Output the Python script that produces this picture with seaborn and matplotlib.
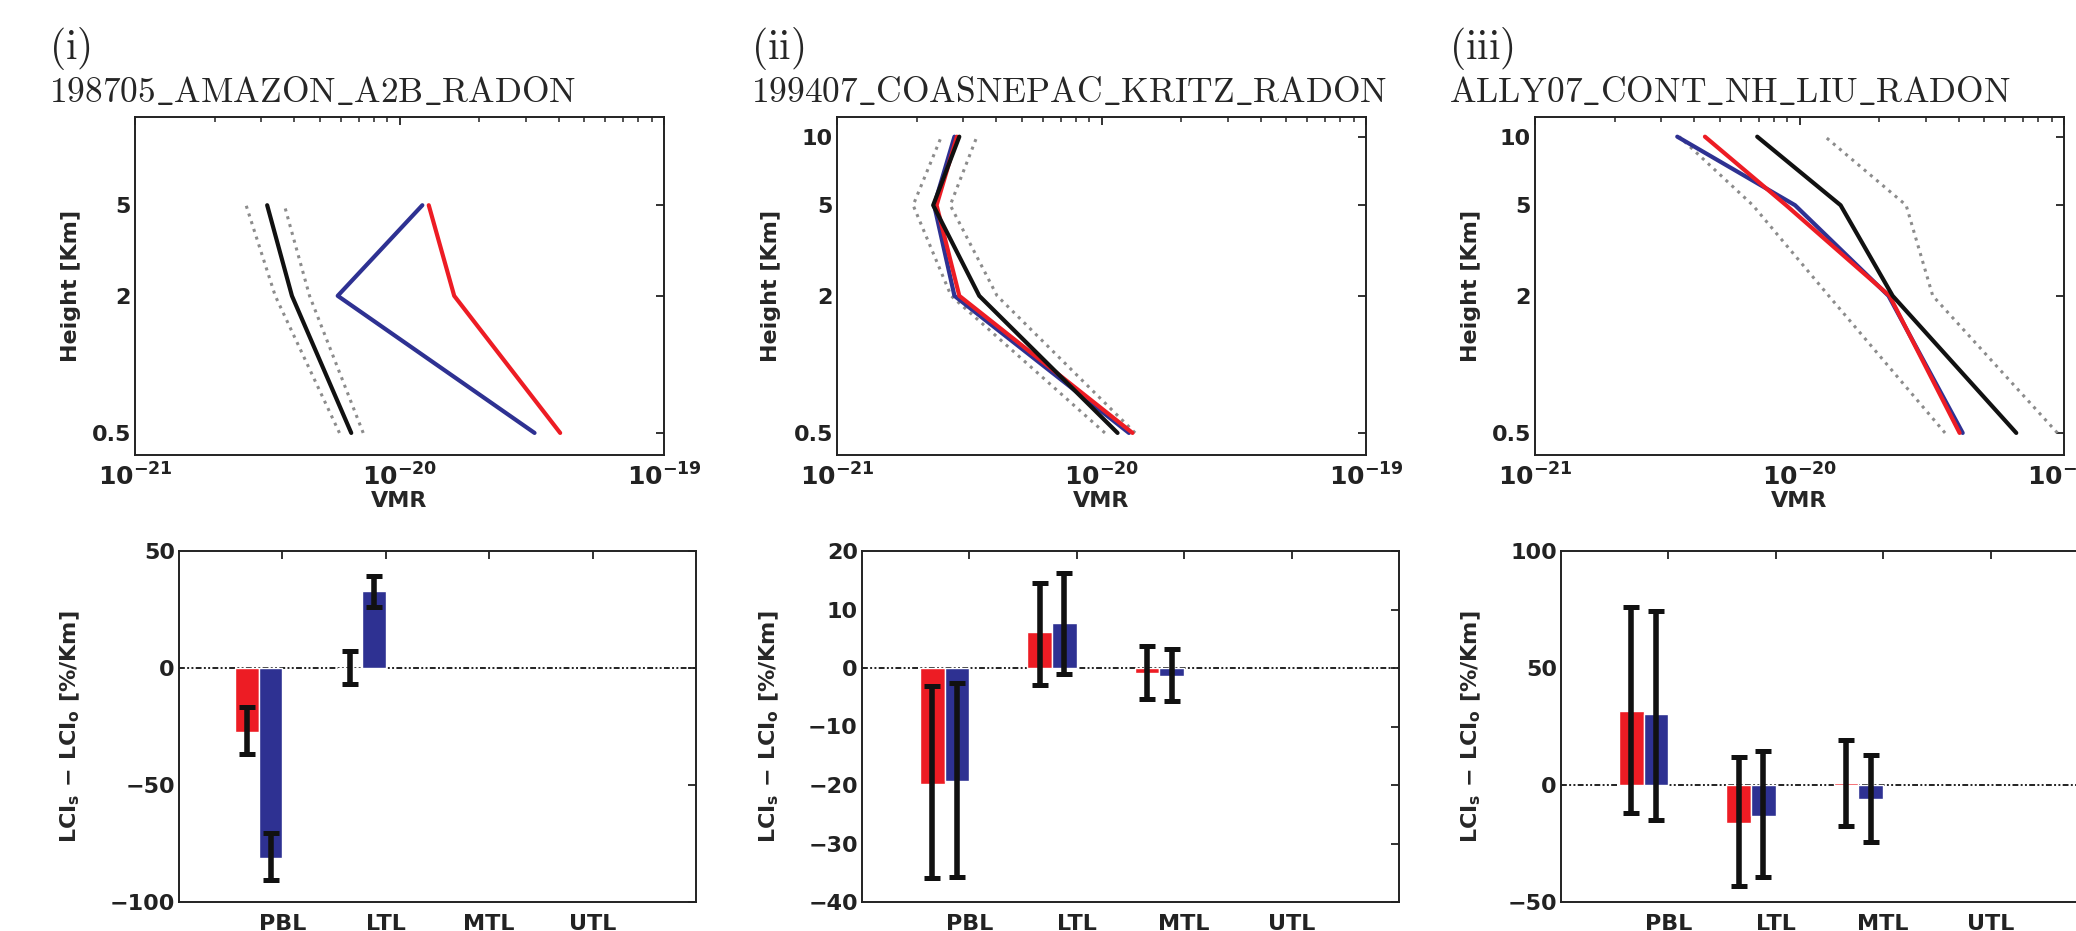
import matplotlib
matplotlib.use("Agg")
import matplotlib.pyplot as plt
import numpy as np
import pandas as pd
import seaborn as sns
from matplotlib.ticker import NullFormatter, NullLocator

# ---- data -----------------------------------------------------------------
panel_tags = ["(i)", "(ii)", "(iii)"]
panel_names = [
    "198705\\_AMAZON\\_A2B\\_RADON",
    "199407\\_COASNEPAC\\_KRITZ\\_RADON",
    "ALLY07\\_CONT\\_NH\\_LIU\\_RADON",
]

heights_short = [0.5, 2, 5]
heights_long = [0.5, 2, 5, 10]
profile_heights = [heights_short, heights_long, heights_long]

# observed mean and its spread, red/blue model runs
obs_mean = [
    [6.57e-21, 3.92e-21, 3.16e-21],
    [1.15e-20, 3.45e-21, 2.31e-21, 2.90e-21],
    [6.60e-20, 2.25e-20, 1.43e-20, 6.92e-21],
]
obs_low = [
    [5.93e-21, 3.39e-21, 2.63e-21],
    [1.03e-20, 2.70e-21, 1.94e-21, 2.48e-21],
    [3.55e-20, 1.29e-20, 6.66e-21, 3.51e-21],
]
obs_high = [
    [7.29e-21, 4.57e-21, 3.67e-21],
    [1.34e-20, 4.03e-21, 2.68e-21, 3.38e-21],
    [9.44e-20, 3.19e-20, 2.53e-20, 1.25e-20],
]
model_red = [
    [4.05e-20, 1.61e-20, 1.29e-20],
    [1.31e-20, 2.90e-21, 2.38e-21, 2.84e-21],
    [4.03e-20, 2.19e-20, 8.90e-21, 4.39e-21],
]
model_blue = [
    [3.24e-20, 5.84e-21, 1.22e-20],
    [1.27e-20, 2.78e-21, 2.33e-21, 2.78e-21],
    [4.14e-20, 2.17e-20, 9.62e-21, 3.45e-21],
]

layers = ["PBL", "LTL", "MTL", "UTL"]
nan = np.nan
lci_red = [
    [-27.5, -0.5, nan, nan],
    [-19.8, 6.1, -0.9, nan],
    [31.5, -16.2, 0.85, nan],
]
lci_red_lo = [
    [-36.7, -6.8, nan, nan],
    [-35.9, -2.85, -5.3, nan],
    [-12.1, -43.0, -17.4, nan],
]
lci_red_hi = [
    [-16.8, 7.1, nan, nan],
    [-3.0, 14.6, 3.8, nan],
    [76.2, 12.1, 19.2, nan],
]
lci_blue = [
    [-81.0, 32.7, nan, nan],
    [-19.4, 7.7, -1.4, nan],
    [30.5, -13.1, -6.0, nan],
]
lci_blue_lo = [
    [-90.5, 25.9, nan, nan],
    [-35.8, -1.1, -5.6, nan],
    [-14.8, -39.5, -24.2, nan],
]
lci_blue_hi = [
    [-70.4, 39.4, nan, nan],
    [-2.6, 16.2, 3.25, nan],
    [74.5, 14.7, 12.8, nan],
]
lci_ylims = [(-100, 50), (-40, 20), (-50, 100)]
lci_yticks = [[-100, -50, 0, 50], [-40, -30, -20, -10, 0, 10, 20], [-50, 0, 50, 100]]

# ---- style ---------------------------------------------------------------
sns.set_style("white")
plt.rcParams["font.family"] = ["DejaVu Sans"]
plt.rcParams["font.weight"] = "bold"
plt.rcParams["axes.labelweight"] = "bold"
plt.rcParams["mathtext.fontset"] = "dejavusans"
plt.rcParams["axes.edgecolor"] = "#222222"
plt.rcParams["axes.linewidth"] = 1.4

RED = "#ED1C24"
BLUE = "#2E3192"
W, H = 2076, 931

fig = plt.figure(figsize=(W / 100, H / 100), dpi=100)

top_left = [135, 837, 1535]
top_w = 529
bot_left = [179, 862, 1561]
bot_right = [696, 1399, 2098]
top_ylab_off = [64, 66, 64]
bot_ylab_off = [109, 93, 90]


def px_axes(left, top, right, bottom):
    return fig.add_axes([left / W, 1 - bottom / H, (right - left) / W, (bottom - top) / H])


def style_ticks(ax):
    ax.tick_params(which="both", direction="in", top=True, right=True,
                   colors="#222222", labelcolor="#222222")
    ax.tick_params(which="major", length=6, width=1.3, labelsize=16)
    ax.tick_params(which="minor", length=3.5, width=1.1)


bar_width = 0.46
for i in range(3):
    # ---- profile panel ----
    ax = px_axes(top_left[i], 117, top_left[i] + top_w, 455)
    hts = profile_heights[i]
    for vals in (obs_low[i], obs_high[i]):
        sns.lineplot(x=vals, y=hts, sort=False, estimator=None, color="0.55",
                     linestyle=":", lw=2.2, ax=ax)
    sns.lineplot(x=model_blue[i], y=hts, sort=False, estimator=None, color=BLUE, lw=3, ax=ax)
    sns.lineplot(x=model_red[i], y=hts, sort=False, estimator=None, color=RED, lw=3, ax=ax)
    sns.lineplot(x=obs_mean[i], y=hts, sort=False, estimator=None, color="#111111", lw=3, ax=ax)
    ax.set_xscale("log")
    ax.set_yscale("log")
    ax.set_xlim(1e-21, 1e-19)
    ax.set_ylim(0.4, 12.2)
    ax.set_xticks([1e-21, 1e-20, 1e-19],
                  [r"$\mathbf{10^{-21}}$", r"$\mathbf{10^{-20}}$", r"$\mathbf{10^{-19}}$"])
    ax.xaxis.set_minor_formatter(NullFormatter())
    ax.set_yticks(hts, [f"{h:g}" for h in hts])
    ax.yaxis.set_minor_locator(NullLocator())
    style_ticks(ax)
    ax.tick_params(axis="x", pad=6, labelsize=18)
    ax.tick_params(axis="y", pad=3)
    ax.set_xlabel("VMR", fontsize=16, labelpad=0)
    ax.set_ylabel("Height [Km]", fontsize=16, va="center")
    ax.yaxis.set_label_coords(-top_ylab_off[i] / top_w, 0.5)

    fig.text((top_left[i] - 86) / W, 1 - 48 / H, r"$\mathrm{" + panel_tags[i] + "}$",
             math_fontfamily="cm", fontsize=30, va="center", ha="left")
    fig.text((top_left[i] - 86) / W, 1 - 102 / H, r"$\mathrm{" + panel_names[i] + "}$",
             math_fontfamily="cm", fontsize=25.5, va="baseline", ha="left")

    # ---- layer bar panel ----
    bx = px_axes(bot_left[i], 551, bot_right[i], 902)
    df = pd.DataFrame({
        "layer": layers * 2,
        "run": ["red"] * 4 + ["blue"] * 4,
        "value": lci_red[i] + lci_blue[i],
    }).dropna()
    bx.axhline(0, color="#222222", lw=1.4, linestyle=(0, (3, 1.2, 1, 1.2, 1, 1.2)), zorder=0.5)
    sns.barplot(data=df, x="layer", y="value", hue="run", order=layers,
                hue_order=["red", "blue"], palette=[RED, BLUE], width=bar_width,
                saturation=1, errorbar=None, legend=False, ax=bx, zorder=1)
    idx = np.arange(len(layers))
    for k, (mid, lo, hi) in enumerate([(lci_red[i], lci_red_lo[i], lci_red_hi[i]),
                                        (lci_blue[i], lci_blue_lo[i], lci_blue_hi[i])]):
        mid = np.array(mid)
        lo = np.array(lo)
        hi = np.array(hi)
        xs = idx + (k - 0.5) * bar_width / 2
        bx.errorbar(xs, mid, yerr=[mid - lo, hi - mid], fmt="none", ecolor="#111111",
                    elinewidth=4, capsize=6, capthick=3.6, zorder=3)
    bx.set_xticks(idx + bar_width / 2, layers)
    bx.set_xlim(-1 + bar_width / 2, 4 + bar_width / 2)
    bx.set_ylim(*lci_ylims[i])
    bx.set_yticks(lci_yticks[i])
    style_ticks(bx)
    bx.tick_params(axis="x", pad=9, labelsize=16)
    bx.tick_params(axis="y", pad=3)
    bx.set_xlabel("")
    bx.set_ylabel(r"LCI$_\mathbf{s}$ $-$ LCI$_\mathbf{o}$ [%/Km]", fontsize=16, va="center")
    bx.yaxis.set_label_coords(-bot_ylab_off[i] / (bot_right[i] - bot_left[i]), 0.5)

fig.savefig("out.png", dpi=100)
